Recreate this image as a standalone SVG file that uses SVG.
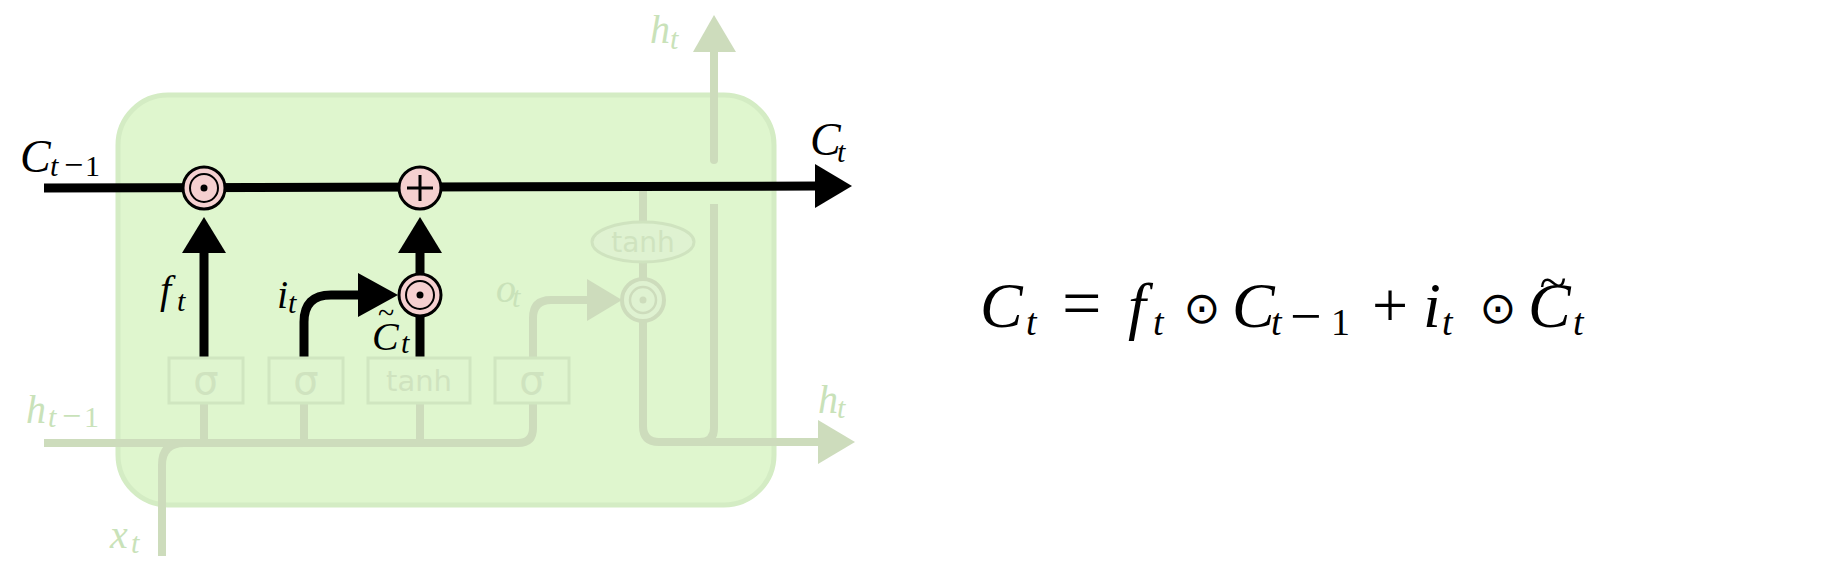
<svg xmlns="http://www.w3.org/2000/svg" width="1826" height="564" viewBox="0 0 1826 564">
<style>
.math{font-family:"Liberation Serif",serif;font-style:italic}
.up{font-style:normal}
.lbl{fill:#000}
.fade{fill:#c9e2b9}
.fl{fill:none;stroke:#cddcbc;stroke-width:8}
.fh{fill:#cddcbc}
.bl{fill:none;stroke:#000;stroke-width:9}
.gate{fill:#dff5cf;stroke:#d0e6c0;stroke-width:3}
.gtxt{font-family:"DejaVu Sans",sans-serif;fill:#cfe3bf;text-anchor:middle}
.op{fill:#f5d0d0;stroke:#000;stroke-width:3}
.odot{font-family:"DejaVu Sans",sans-serif;font-style:normal;text-anchor:middle}
</style>
<rect width="1826" height="564" fill="#fff"/>
<g id="cell">
<rect x="118" y="95" width="656" height="410" rx="50" fill="#dff6ce" stroke="#d4ecc4" stroke-width="5"/>
</g>
<g id="connectors">
<path class="fl" d="M44,443 H518 Q533,443 533,428 V403"/>
<path class="fl" d="M204,443 V403 M304,443 V403 M420,443 V403"/>
<path class="fl" d="M162,556 V465 Q162,443 184,443"/>
<path class="fl" d="M533,358 V318 Q533,300 551,300 H592"/>
<polygon class="fh" points="587,279 622,300 587,321"/>
<path class="fl" d="M643,190 V222 M643,262 V280"/>
<path class="fl" d="M643,320 V426 Q643,442 659,442 H822"/>
<path class="fl" d="M714,204 V428 Q714,442 700,442"/>
<polygon class="fh" points="818,420 855,442 818,464"/>
<path class="fl" d="M714,160 V50" stroke-linecap="round"/>
<polygon class="fh" points="693,52 714,15 736,52"/>
<path class="bl" d="M44,188 L818,186"/>
<polygon points="815,164 852,186 815,208" fill="#000"/>
<path class="bl" d="M204,358 V250"/>
<polygon points="182,253 204,217 226,253" fill="#000"/>
<path class="bl" d="M420,275 V250"/>
<polygon points="398,253 420,217 442,253" fill="#000"/>
<path class="bl" d="M420,317 V358"/>
<path class="bl" stroke-width="10" d="M304,358 V322 Q304,295 331,295 H362"/>
<polygon points="358,273 398,295 358,317" fill="#000"/>
</g>
<g id="gate-f"><rect class="gate" x="169" y="358" width="74" height="45"/><text class="gtxt" x="206" y="394" font-size="40">σ</text></g>
<g id="gate-i"><rect class="gate" x="269" y="358" width="74" height="45"/><text class="gtxt" x="306" y="394" font-size="40">σ</text></g>
<g id="gate-c"><rect class="gate" x="368" y="358" width="102" height="45"/><text class="gtxt" x="419" y="391" font-size="29">tanh</text></g>
<g id="gate-o"><rect class="gate" x="495" y="358" width="74" height="45"/><text class="gtxt" x="532" y="394" font-size="40">σ</text></g>
<g id="tanh-out"><ellipse cx="643" cy="242" rx="51" ry="20" fill="#dff2d1" stroke="#cfe3bf" stroke-width="3"/><text class="gtxt" x="643" y="252" font-size="28">tanh</text></g>
<g id="mul-out">
<circle cx="643" cy="300" r="21" fill="#dff2d1" stroke="#cddcbc" stroke-width="4"/>
<circle cx="643" cy="300" r="13" fill="none" stroke="#cddcbc" stroke-width="2.5"/>
<circle cx="643" cy="300" r="3.5" fill="#cddcbc"/>
</g>
<g id="mul-f">
<circle class="op" cx="204" cy="188" r="21"/>
<circle cx="204" cy="188" r="14" fill="none" stroke="#000" stroke-width="2"/>
<circle cx="204" cy="188" r="3.5" fill="#000"/>
</g>
<g id="add">
<circle class="op" cx="420" cy="188" r="21"/>
<path d="M407,188 H433 M420,175 V201" stroke="#000" stroke-width="3"/>
</g>
<g id="mul-i">
<circle class="op" cx="420" cy="295" r="21"/>
<circle cx="420" cy="295" r="14" fill="none" stroke="#000" stroke-width="2"/>
<circle cx="420" cy="295" r="3.5" fill="#000"/>
</g>
<g id="labels" class="math">
<text class="lbl" x="20" y="172" font-size="46">C<tspan font-size="30" x="50" y="176">t</tspan><tspan class="up" font-size="34" x="64" y="176">−</tspan><tspan class="up" font-size="30" x="85" y="176">1</tspan></text>
<text class="lbl" x="810" y="155" font-size="46">C<tspan font-size="30" x="837" y="162">t</tspan></text>
<text class="fade" x="650" y="43" font-size="40">h<tspan font-size="30" x="670" y="49">t</tspan></text>
<text class="lbl" x="160" y="303" font-size="40">f<tspan font-size="30" x="177" y="311">t</tspan></text>
<text class="lbl" x="277" y="308" font-size="40">i<tspan font-size="30" x="288" y="313">t</tspan></text>
<text class="lbl" x="372" y="350" font-size="40">C<tspan font-size="30" x="401" y="353">t</tspan></text>
<text class="lbl up" x="386" y="323" font-size="30" text-anchor="middle">~</text>
<text class="fade" x="496" y="302" font-size="40">o<tspan font-size="30" x="512" y="307">t</tspan></text>
<text class="fade" x="818" y="413" font-size="40">h<tspan font-size="30" x="837" y="418">t</tspan></text>
<text class="fade" x="26" y="423" font-size="40">h<tspan font-size="30" x="48" y="427">t</tspan><tspan class="up" font-size="34" x="62" y="427">−</tspan><tspan class="up" font-size="30" x="84" y="427">1</tspan></text>
<text class="fade" x="110" y="548" font-size="40">x<tspan font-size="30" x="131" y="553">t</tspan></text>
</g>
<g id="equation" class="math" fill="#000">
<text x="980" y="327" font-size="64">C</text>
<text x="1026" y="335" font-size="38">t</text>
<text x="1062" y="327" font-size="70" class="up">=</text>
<text x="1128" y="327" font-size="64">f</text>
<text x="1153" y="335" font-size="38">t</text>
<text class="odot" x="1202" y="323" font-size="44">⊙</text>
<text x="1232" y="327" font-size="64">C</text>
<text x="1271" y="335" font-size="38">t</text>
<text x="1290" y="335" font-size="56" class="up">−</text>
<text x="1331" y="335" font-size="38" class="up">1</text>
<text x="1372" y="327" font-size="64" class="up">+</text>
<text x="1423" y="327" font-size="64">i</text>
<text x="1442" y="335" font-size="38">t</text>
<text class="odot" x="1498" y="323" font-size="44">⊙</text>
<text x="1528" y="327" font-size="64">C</text>
<text x="1553" y="299" font-size="50" class="up" text-anchor="middle">~</text>
<text x="1573" y="335" font-size="38">t</text>
</g>
</svg>
